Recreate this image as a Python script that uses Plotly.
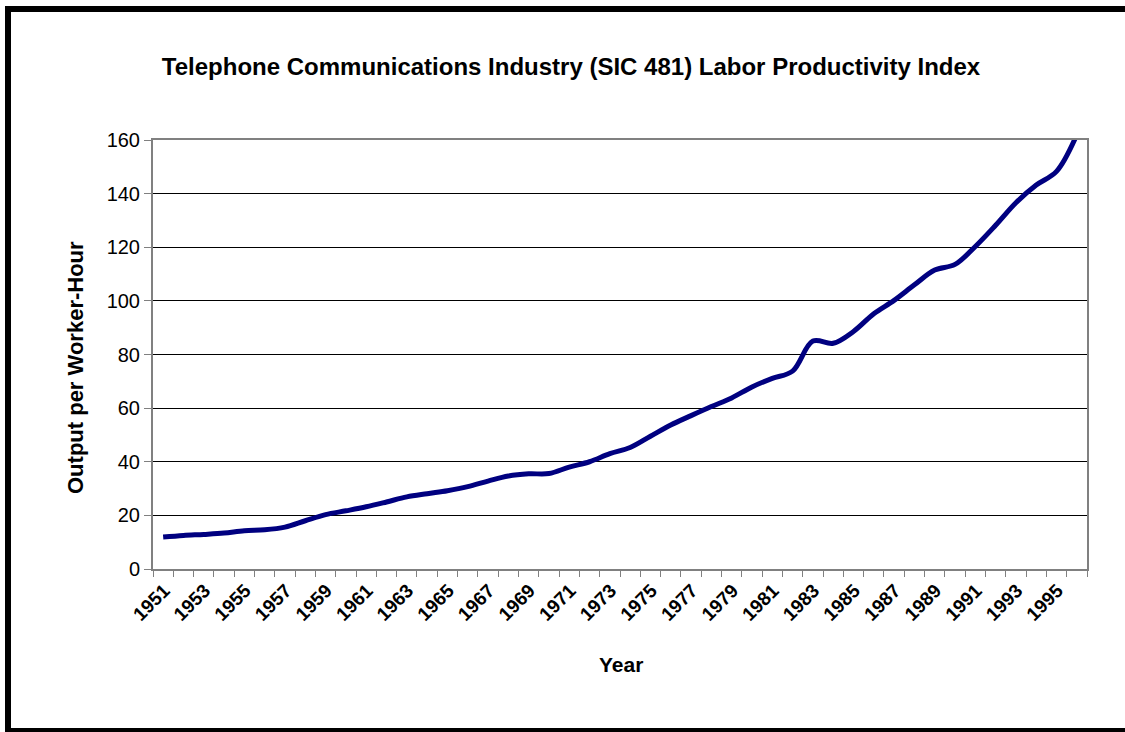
import plotly.graph_objects as go

# Telephone communications (SIC 481): output per worker-hour, 1987 = 100
years = list(range(1951, 1997))
productivity = [
    11.9, 12.5, 12.9, 13.4, 14.3, 14.6, 15.6, 18.0, 20.3, 21.7,
    23.2, 25.0, 26.9, 28.1, 29.2, 30.7, 32.8, 34.7, 35.5, 35.6,
    38.0, 40.0, 43.0, 45.3, 49.5, 53.7, 57.2, 60.6, 63.8, 67.9,
    71.1, 73.8, 85.0, 84.2, 88.6, 95.2, 100.2, 106.0, 111.5, 113.6,
    120.3, 128.2, 136.6, 143.2, 148.3, 162.0,
]
label_years = [y for y in years if y % 2 == 1 and y <= 1995]
y_ticks = list(range(0, 161, 20))

W, H = 1125, 732
L, R, T, B = 153, 1087, 140, 569   # plot area in pixels


def px_x(px):
    return (px - L) / (R - L)


def px_y(py):
    return (B - py) / (B - T)


FONT = "Liberation Sans, Arial, sans-serif"

fig = go.Figure()
fig.add_trace(go.Scatter(
    x=years, y=productivity, mode="lines",
    line=dict(color="#000080", width=5, shape="spline", smoothing=1.0),
    hoverinfo="x+y", showlegend=False,
))

# chart frame: left, top and bottom edges
frame = dict(type="line", xref="paper", yref="paper", layer="above",
             line=dict(color="black", width=6))
shapes = [
    dict(frame, x0=px_x(8), x1=px_x(8), y0=px_y(735), y1=px_y(6)),
    dict(frame, x0=px_x(5), x1=px_x(1130), y0=px_y(9), y1=px_y(9)),
    dict(frame, x0=px_x(5), x1=px_x(1130), y0=px_y(731), y1=px_y(731)),
]

fig.update_layout(
    width=W, height=H,
    margin=dict(l=L, r=W - R, t=T, b=H - B, pad=0),
    paper_bgcolor="white", plot_bgcolor="white",
    font=dict(family=FONT, color="black"),
    title=dict(
        text="<b>Telephone Communications Industry (SIC 481) Labor Productivity Index</b>",
        x=571 / W, xanchor="center", y=1 - 67 / H, yanchor="middle",
        font=dict(size=24, family=FONT, color="black"),
    ),
    xaxis=dict(
        range=[1950.5, 1996.5], tickmode="array", tickvals=label_years,
        ticktext=[str(y) for y in label_years], tickangle=-45,
        ticks="outside", ticklen=0,
        ticklabelshift=1, ticklabelstandoff=1,
        tickfont=dict(size=19, family=FONT, color="black", weight="bold"),
        minor=dict(tickmode="linear", tick0=1950.5, dtick=1, ticks="outside",
                   ticklen=6, tickwidth=1, tickcolor="#808080", showgrid=False),
        showgrid=False, zeroline=False,
        showline=True, linecolor="#808080", linewidth=2, mirror=True,
    ),
    yaxis=dict(
        range=[0, 160], tickmode="array", tickvals=y_ticks,
        ticks="outside", ticklen=7, tickwidth=1, tickcolor="#808080",
        tickfont=dict(size=20, family=FONT, color="black"),
        showgrid=True, gridcolor="black", gridwidth=1, zeroline=False,
        showline=True, linecolor="#808080", linewidth=2, mirror=True,
    ),
    annotations=[
        dict(text="<b>Year</b>", xref="paper", yref="paper",
             x=px_x(621), y=px_y(664), xanchor="center", yanchor="middle",
             showarrow=False, font=dict(size=21, family=FONT, color="black")),
        dict(text="<b>Output per Worker-Hour</b>", xref="paper", yref="paper",
             x=px_x(75), y=px_y(368), xanchor="center", yanchor="middle",
             textangle=-90, showarrow=False,
             font=dict(size=22, family=FONT, color="black")),
    ],
    shapes=shapes,
)

fig.write_html("out.html")
